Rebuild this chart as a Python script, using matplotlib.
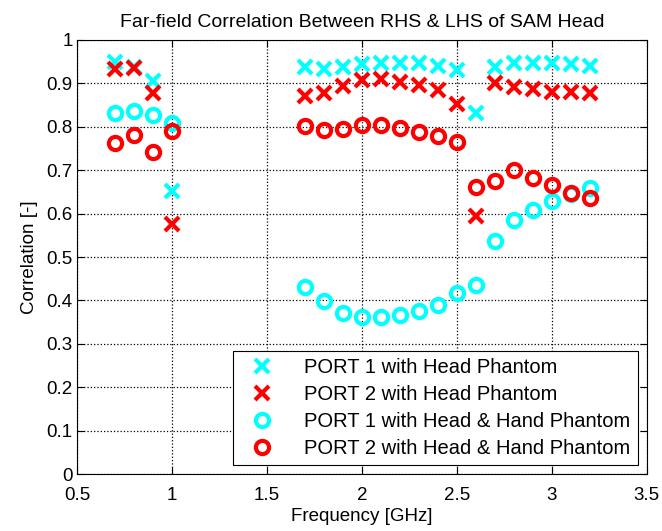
import matplotlib
matplotlib.use('Agg')
from matplotlib import pyplot as plt
from matplotlib.ticker import FuncFormatter
import numpy as np

plt.rcParams['font.family'] = ['Liberation Sans', 'DejaVu Sans']

# frequencies [GHz]
freq = [0.7, 0.8, 0.9, 1.0, 1.7, 1.8, 1.9, 2.0, 2.1, 2.2, 2.3, 2.4, 2.5, 2.6,
        2.7, 2.8, 2.9, 3.0, 3.1, 3.2]

# correlation values
port1_head = [0.950, 0.937, 0.905, 0.652, 0.938, 0.934, 0.938, 0.945, 0.948, 0.948,
              0.946, 0.940, 0.931, 0.831, 0.938, 0.946, 0.946, 0.946, 0.945, 0.940]
port2_head = [0.934, 0.935, 0.877, 0.575, 0.871, 0.879, 0.894, 0.908, 0.910, 0.904,
              0.896, 0.885, 0.852, 0.594, 0.900, 0.892, 0.886, 0.881, 0.881, 0.877]
port1_hand = [0.832, 0.836, 0.828, 0.808, 0.432, 0.398, 0.371, 0.361, 0.361, 0.366,
              0.375, 0.390, 0.416, 0.436, 0.536, 0.586, 0.609, 0.630, 0.645, 0.660]
port2_hand = [0.763, 0.781, 0.741, 0.790, 0.801, 0.792, 0.796, 0.804, 0.804, 0.798,
              0.788, 0.778, 0.765, 0.661, 0.675, 0.700, 0.683, 0.665, 0.647, 0.637]

labels = ['PORT 1 with Head Phantom', 'PORT 2 with Head Phantom',
          'PORT 1 with Head & Hand Phantom', 'PORT 2 with Head & Hand Phantom']

fig = plt.figure(figsize=(6.62, 5.31), dpi=100)
ax = fig.add_axes([0.1163, 0.1073, 0.8607, 0.8174])

ms, mew = 9.5, 3
ax.plot(freq, port1_head, 'x', color='cyan', ms=ms, mew=mew, label=labels[0])
ax.plot(freq, port2_head, 'x', color='red', ms=ms, mew=mew, label=labels[1])
ax.plot(freq, port1_hand, 'o', color='cyan', mfc='none', ms=ms, mew=mew, label=labels[2])
ax.plot(freq, port2_hand, 'o', color='red', mfc='none', ms=ms, mew=mew, label=labels[3])

ax.set_xlim(0.5, 3.5)
ax.set_ylim(0, 1)
ax.set_xticks(np.arange(0.5, 3.51, 0.5))
ax.set_yticks(np.arange(0, 1.01, 0.1))
fmt = FuncFormatter(lambda v, p: '%g' % round(v, 2))
ax.xaxis.set_major_formatter(fmt)
ax.yaxis.set_major_formatter(fmt)
ax.tick_params(direction='in', top=True, right=True, labelsize=13.5, length=5, pad=3)
ax.tick_params(axis='x', pad=9)
ax.grid(True, linestyle=':', color='black', linewidth=0.9)

ax.set_xlabel('Frequency [GHz]', fontsize=13.5, labelpad=3)
ax.set_ylabel('Correlation [-]', fontsize=13.5, labelpad=6)
ax.set_title('Far-field Correlation Between RHS & LHS of SAM Head', fontsize=14, pad=9)

leg = ax.legend(loc='lower right', fontsize=14.5, fancybox=False, framealpha=1,
                edgecolor='black', borderaxespad=0.45, handletextpad=1.0,
                labelspacing=0.4, borderpad=0.35, handlelength=2.2)
leg.get_frame().set_linewidth(0.8)

plt.savefig('out.png', dpi=100)
